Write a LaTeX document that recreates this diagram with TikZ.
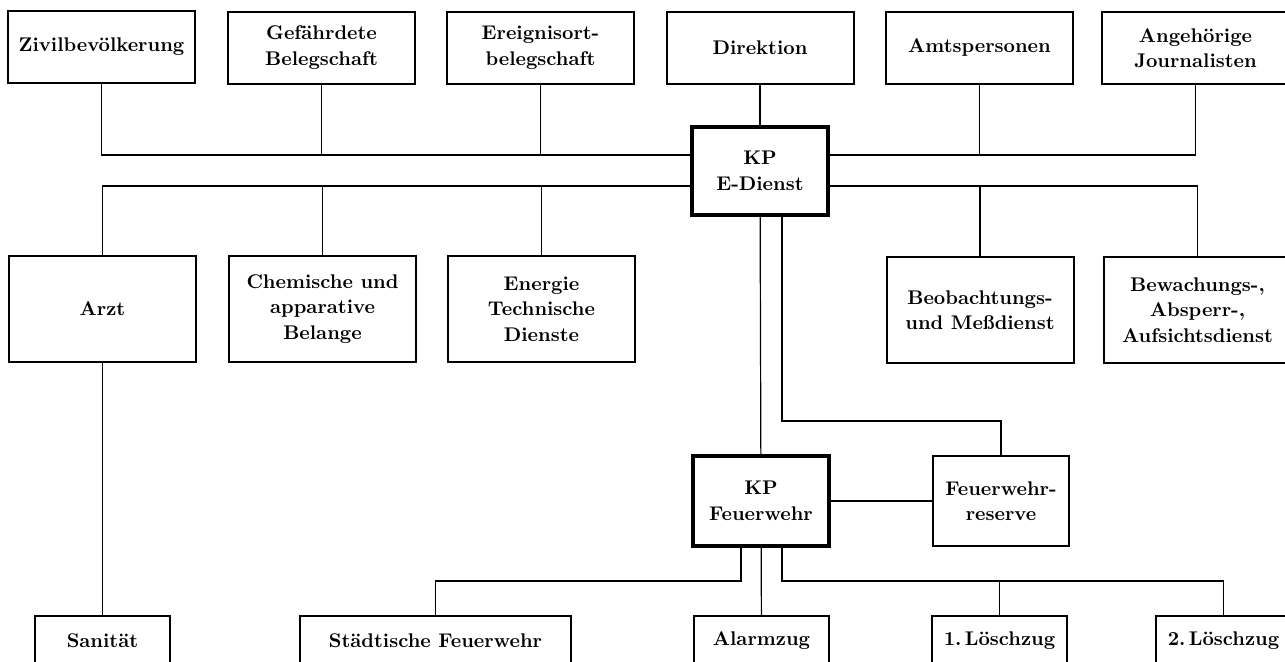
\documentclass[tikz,border=0pt]{standalone}
\usepackage{tikz}
\usetikzlibrary{positioning,calc}

\begin{document}
\begin{tikzpicture}[x=0.5pt,y=-0.5pt,font=\fontsize{9.9pt}{12.8pt}\selectfont\bfseries]
\tikzstyle{box}=[draw,line width=1pt,align=center,inner sep=2pt,minimum width=93.5pt,minimum height=36pt]
\tikzstyle{midbox}=[box,minimum height=53pt]
\tikzstyle{kpbox}=[draw,line width=1.6pt,align=center,inner sep=2pt,minimum width=68pt,minimum height=44pt]
\tikzstyle{lowbox}=[box,minimum width=67.5pt,minimum height=25pt]
\tikzstyle{link}=[line width=0.6pt]

\useasboundingbox (0,0) rectangle (1285,661);
\clip (0,0) rectangle (1285,661);

\node[box] (zivil) at (101.5,47) {Zivilbevölkerung};
\node[box] (gefahr) at (321.5,47.5) {Gefährdete\\Belegschaft};
\node[box] (ereignis) at (540.5,47.5) {Ereignisort-\\belegschaft};
\node[box] (direktion) at (760,47.5) {Direktion};
\node[box] (amt) at (979.5,48) {Amtspersonen};
\node[box] (angeh) at (1195.5,48) {Angehörige\\Journalisten};

\node[kpbox] (kpe) at (760,171) {KP\\E-Dienst};

\node[midbox] (arzt) at (102.5,309) {Arzt};
\node[midbox] (chem) at (322.5,309) {Chemische und\\apparative\\Belange};
\node[midbox] (energie) at (541.5,309) {Energie\\Technische\\Dienste};
\node[midbox] (beob) at (980,310) {Beobachtungs-\\und Meßdienst};
\node[midbox] (bewach) at (1197.5,310) {Bewachungs-,\\Absperr-,\\Aufsichtsdienst};

\node[kpbox,minimum height=45pt] (kpf) at (761,501) {KP\\Feuerwehr};
\node[box,minimum width=68pt,minimum height=45pt] (reserve) at (1001,501) {Feuerwehr-\\reserve};

\node[lowbox] (sanitaet) at (102.5,641) {Sanität};
\node[lowbox,minimum width=135.5pt] (staedt) at (435.5,641) {Städtische Feuerwehr};
\node[lowbox] (alarm) at (761.5,641) {Alarmzug};
\node[lowbox] (loesch1) at (999.5,641) {1.\,Löschzug};
\node[lowbox] (loesch2) at (1223.5,641) {2.\,Löschzug};

\coordinate (topbus) at ([yshift=8pt]kpe.west);
\coordinate (midbus) at ([yshift=-7.5pt]kpe.west);
\coordinate (topbusr) at ([yshift=8pt]kpe.east);
\coordinate (midbusr) at ([yshift=-7.5pt]kpe.east);

\draw[link] (topbus) -| (zivil);
\draw[link] (gefahr) -- (gefahr |- topbus);
\draw[link] (ereignis) -- (ereignis |- topbus);
\draw[link] (topbusr) -| (angeh);
\draw[link] (amt) -- (amt |- topbusr);
\draw[link] (direktion) -- (kpe);

\draw[link] (midbus) -| (arzt);
\draw[link] (chem |- midbus) -- (chem);
\draw[link] (energie |- midbus) -- (energie);
\draw[link] (midbusr) -| (bewach);
\draw[link] (beob |- midbusr) -- (beob);

\draw[link] (arzt) -- (sanitaet);
\draw[link] (kpe) -- (kpf);
\draw[link] ([xshift=11pt]kpe.south) |- ([yshift=17pt]reserve.north) -- (reserve.north);
\draw[link] (kpf) -- (reserve);

\draw[link] ([xshift=-10pt]kpf.south) |- ([yshift=17pt]staedt.north) -- (staedt.north);
\draw[link] (kpf) -- (alarm);
\draw[link] ([xshift=10.5pt]kpf.south) |- ([yshift=17pt]loesch2.north) -- (loesch2.north);
\draw[link] ([yshift=17pt]loesch1.north) -- (loesch1.north);
\end{tikzpicture}
\end{document}
